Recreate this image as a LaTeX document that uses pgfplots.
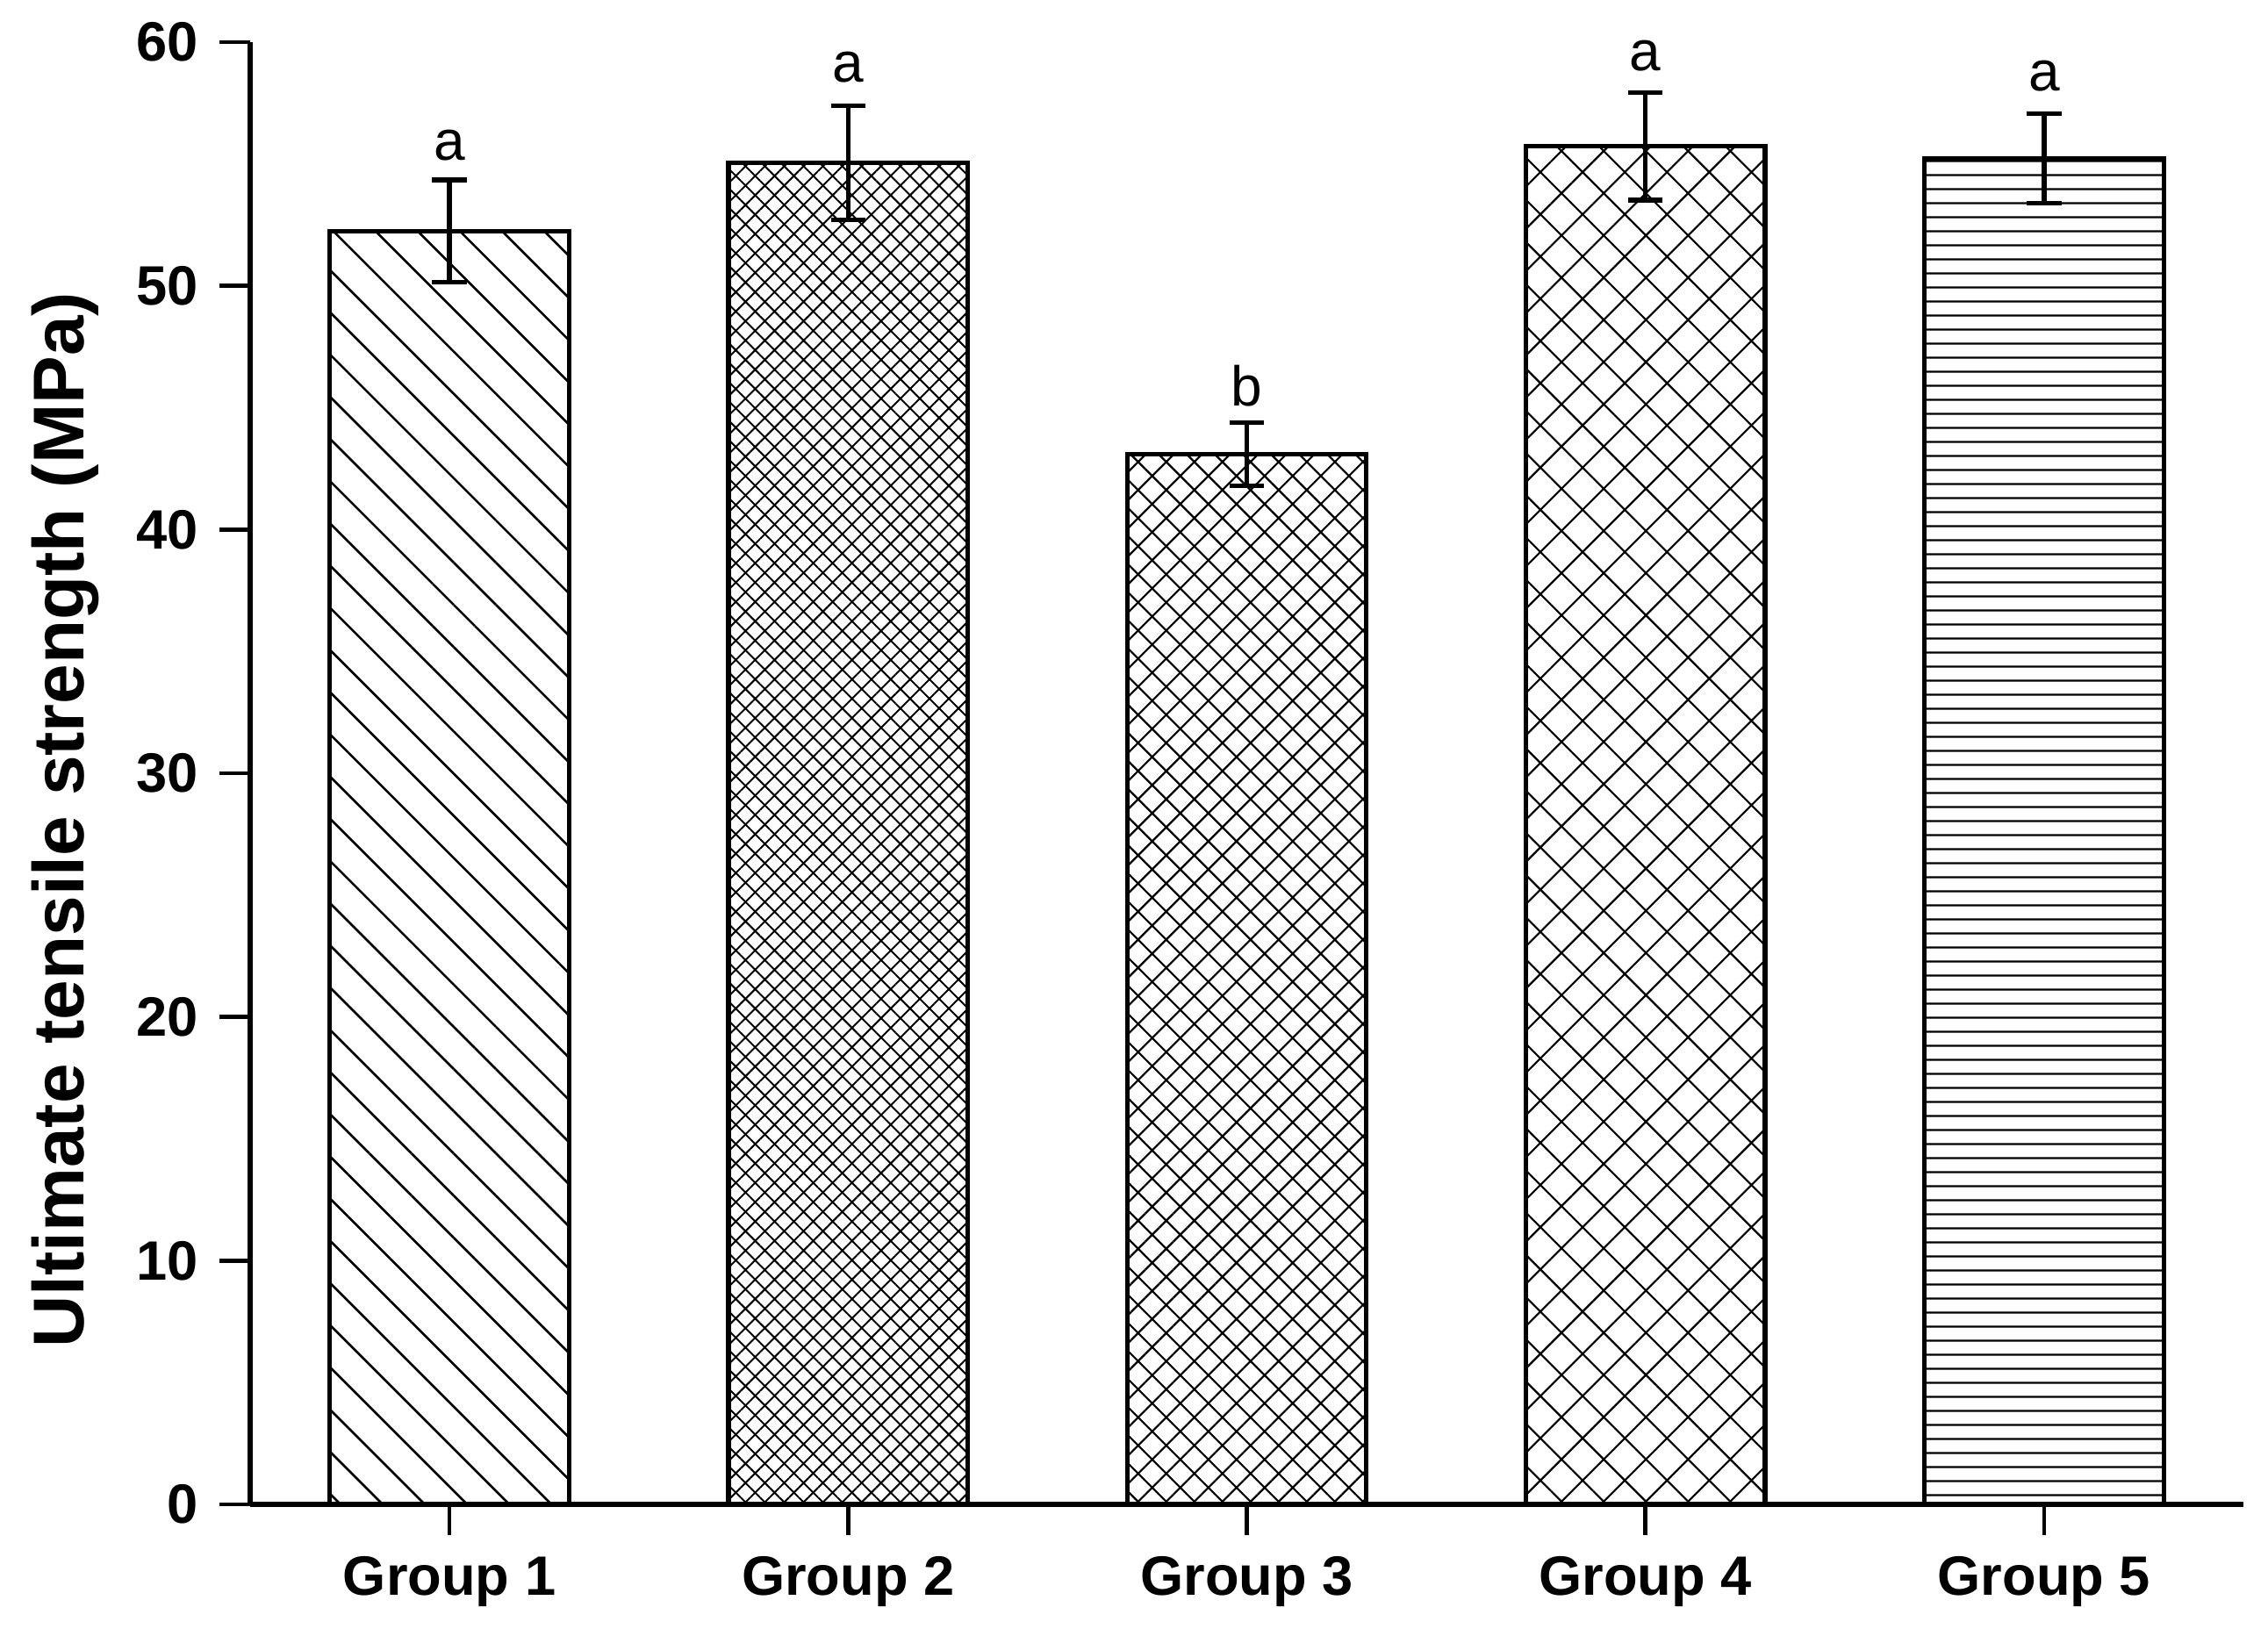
\documentclass[border=0pt]{standalone}
\usepackage{fontspec}
\setmainfont{Liberation Sans}
\usepackage{pgfplots}
\pgfplotsset{compat=1.18}
\usetikzlibrary{patterns.meta}
\pgfdeclarepattern{
  name=hlines,
  type=uncolored,
  bottom left={\pgfpoint{0pt}{0pt}},
  top right={\pgfpoint{4pt}{4pt}},
  tile size={\pgfpoint{4pt}{4pt}},
  code={
    \pgfsetlinewidth{0.6pt}
    \pgfpathmoveto{\pgfpoint{-0.5pt}{2pt}}
    \pgfpathlineto{\pgfpoint{4.5pt}{2pt}}
    \pgfusepath{stroke}
  }
}
\pgfplotsset{
  mybar/.style={ybar, bar shift=0pt, bar width=0.6, draw=black, line width=1.3pt, pattern color=black,
    error bars/y dir=both, error bars/y explicit,
    error bars/error bar style={line width=1.3pt, black, solid},
    error bars/error mark options={rotate=90, mark size=4.9pt, line width=1.3pt, black}},
}
\begin{document}
\begin{tikzpicture}
\begin{axis}[
  name=ax,
  at={(0,0)}, anchor=south west,
  width=567.75pt, height=416.5pt, scale only axis,
  xmin=0.5, xmax=5.5, ymin=0, ymax=60,
  axis x line*=bottom, axis y line*=left,
  axis line style={line width=1.5pt, -},
  x axis line style={-}, y axis line style={-},
  xtick={1,2,3,4,5},
  xticklabels={Group 1,Group 2,Group 3,Group 4,Group 5},
  ytick={0,10,20,30,40,50,60},
  minor tick num=0,
  tick align=outside,
  major tick length=8.75pt,
  tick style={line width=1.2pt, black},
  /pgf/number format/assume math mode=true,
  ticklabel style={font=\fontsize{15.8}{19}\selectfont\bfseries},
  xticklabel style={yshift=-2.5pt},
  yticklabel style={xshift=-2.5pt},
  ylabel={Ultimate tensile strength (MPa)},
  every axis y label/.style={at={(axis description cs:-0.0925,0.468)}, rotate=90, anchor=center, font=\fontsize{20.5}{24}\selectfont\bfseries},
  clip=false,
]
\addplot[mybar, pattern={Lines[angle=-45,distance=8.5pt,line width=0.65pt]}]
  coordinates {(1,52.25) +- (0,2.1)};
\addplot[mybar, pattern={Hatch[angle=45,distance=3.9pt,line width=0.5pt]}]
  coordinates {(2,55.05) +- (0,2.35)};
\addplot[mybar, pattern={Hatch[angle=45,distance=5.66pt,line width=0.55pt]}]
  coordinates {(3,43.1) +- (0,1.3)};
\addplot[mybar, pattern={Hatch[angle=45,distance=8.5pt,line width=0.55pt]}]
  coordinates {(4,55.72) +- (0,2.2)};
\addplot[mybar, pattern=hlines]
  coordinates {(5,55.23) +- (0,1.85)};
\node[anchor=base, font=\fontsize{16}{19}\selectfont] at (axis cs:1,55.17) {a};
\node[anchor=base, font=\fontsize{16}{19}\selectfont] at (axis cs:2,58.37) {a};
\node[anchor=base, font=\fontsize{16}{19}\selectfont] at (axis cs:3,45.08) {b};
\node[anchor=base, font=\fontsize{16}{19}\selectfont] at (axis cs:4,58.84) {a};
\node[anchor=base, font=\fontsize{16}{19}\selectfont] at (axis cs:5,58.01) {a};
\end{axis}
\path (ax.south west) ++(-71.25pt,-35.25pt) rectangle ++(646pt,463.75pt);
\end{tikzpicture}
\end{document}
